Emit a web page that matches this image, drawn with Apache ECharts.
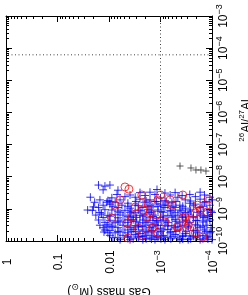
<!DOCTYPE html>
<html><head><meta charset="utf-8">
<script src="https://cdn.jsdelivr.net/npm/echarts@6/dist/echarts.min.js"></script>
<style>html,body{margin:0;padding:0;background:#fff}#c{width:248px;height:295px}</style>
</head><body><div id="c"></div>
<script>
// ---- data ----
const gasMassTicks = [1, 0.1, 0.01, 1e-3, 1e-4];
const gasMassTickLabels = ['1', '0.1', '0.01', '10^\u22123', '10^\u22124'];
const ratioTicks = [1e-3, 1e-4, 1e-5, 1e-6, 1e-7, 1e-8, 1e-9, 1e-10];
const ratioTickLabels = ['10^\u22123','10^\u22124','10^\u22125','10^\u22126','10^\u22127','10^\u22128','10^\u22129','10^\u221210'];

// [gas mass (Msun), 26Al/27Al]
const bluePoints = [
[1.6e-2,5.5e-9],[1.2e-2,5.1e-9],[9.6e-3,5.5e-9],
[1.3e-2,3.9e-9],[6.7e-3,3.8e-9],[1.17e-3,4.0e-9],
[2.5e-3,3.2e-9],[1.6e-3,3.3e-9],[8.2e-4,3.1e-9],[5.2e-4,3.2e-9],[1.7e-4,3.3e-9],
[3.9e-3,2.7e-9],[2.0e-3,2.6e-9],[1.28e-3,2.8e-9],[6.5e-4,2.7e-9],[3.8e-4,2.6e-9],[2.7e-4,2.8e-9],[1.4e-4,2.7e-9],
[2.3e-2,2.3e-9],[8.8e-3,2.2e-9],[4.9e-3,2.4e-9],[3.1e-3,2.3e-9],[1.0e-3,2.2e-9],[4.6e-4,2.3e-9],[2.1e-4,2.4e-9],[1.1e-4,2.3e-9],
[1.5e-2,1.9e-9],[1.05e-2,1.8e-9],[6.1e-3,1.9e-9],[2.5e-3,2.0e-9],[1.6e-3,1.9e-9],[8.2e-4,1.8e-9],[3.3e-4,1.9e-9],[1.7e-4,2.0e-9],[1.0e-4,1.9e-9],
[1.9e-2,1.6e-9],[7.6e-3,1.6e-9],[4.3e-3,1.5e-9],[2.0e-3,1.6e-9],[1.28e-3,1.7e-9],[6.0e-4,1.6e-9],[2.7e-4,1.5e-9],[1.4e-4,1.6e-9],
[1.3e-2,1.3e-9],[9.6e-3,1.4e-9],[5.6e-3,1.3e-9],[3.1e-3,1.3e-9],[1.6e-3,1.3e-9],[1.0e-3,1.4e-9],[7.2e-4,1.3e-9],[4.2e-4,1.3e-9],[2.1e-4,1.4e-9],[1.1e-4,1.3e-9],
[1.6e-2,1.1e-9],[6.7e-3,1.1e-9],[3.9e-3,1.05e-9],[2.2e-3,1.1e-9],[1.4e-3,1.15e-9],[8.2e-4,1.1e-9],[5.2e-4,1.1e-9],[3.3e-4,1.05e-9],[1.7e-4,1.1e-9],
[2.6e-2,9.2e-10],[2.1e-2,9.0e-10],[1.2e-2,9.4e-10],[8.8e-3,9.2e-10],[4.9e-3,9.0e-10],[2.7e-3,9.2e-10],[1.75e-3,9.4e-10],[1.12e-3,9.2e-10],[6.5e-4,9.0e-10],[4.2e-4,9.2e-10],[2.7e-4,9.3e-10],[1.25e-4,9.2e-10],
[1.5e-2,7.7e-10],[6.1e-3,7.6e-10],[3.9e-3,7.8e-10],[3.1e-3,7.6e-10],[1.6e-3,7.7e-10],[8.9e-4,7.8e-10],[5.2e-4,7.6e-10],[3.3e-4,7.7e-10],[1.95e-4,7.8e-10],[1.0e-4,7.7e-10],
[1.8e-2,6.4e-10],[1.05e-2,6.3e-10],[7.6e-3,6.5e-10],[5.35e-3,6.4e-10],[2.5e-3,6.3e-10],[2.0e-3,6.5e-10],[1.28e-3,6.4e-10],[7.2e-4,6.3e-10],[4.6e-4,6.4e-10],[2.9e-4,6.5e-10],[1.7e-4,6.4e-10],[1.2e-4,6.3e-10],
[1.3e-2,5.4e-10],[6.7e-3,5.3e-10],[3.9e-3,5.5e-10],[2.9e-3,5.4e-10],[1.6e-3,5.3e-10],[1.0e-3,5.4e-10],[6.0e-4,5.5e-10],[3.7e-4,5.4e-10],[2.3e-4,5.3e-10],[1.43e-4,5.4e-10],
[1.6e-2,4.5e-10],[9.6e-3,4.4e-10],[4.9e-3,4.5e-10],[3.4e-3,4.6e-10],[2.2e-3,4.5e-10],[1.4e-3,4.4e-10],[8.9e-4,4.5e-10],[5.2e-4,4.6e-10],[3.3e-4,4.5e-10],[1.9e-4,4.4e-10],[1.1e-4,4.5e-10],
[1.2e-2,3.8e-10],[7.6e-3,3.7e-10],[6.1e-3,3.9e-10],[4.3e-3,3.8e-10],[2.5e-3,3.7e-10],[1.75e-3,3.8e-10],[1.12e-3,3.9e-10],[7.2e-4,3.8e-10],[4.2e-4,3.7e-10],[2.7e-4,3.8e-10],[1.5e-4,3.9e-10],
[1.5e-2,3.1e-10],[1.05e-2,3.2e-10],[5.35e-3,3.1e-10],[3.1e-3,3.0e-10],[2.0e-3,3.1e-10],[1.28e-3,3.2e-10],[8.2e-4,3.1e-10],[6.0e-4,3.0e-10],[3.7e-4,3.1e-10],[2.1e-4,3.2e-10],[1.25e-4,3.1e-10],
[1.3e-2,2.6e-10],[8.8e-3,2.7e-10],[6.7e-3,2.6e-10],[3.9e-3,2.6e-10],[2.7e-3,2.7e-10],[1.6e-3,2.6e-10],[1.0e-3,2.5e-10],[5.2e-4,2.6e-10],[2.9e-4,2.7e-10],[1.7e-4,2.6e-10],[1.04e-4,2.6e-10],
[1.2e-2,2.2e-10],[9.6e-3,2.1e-10],[4.9e-3,2.2e-10],[3.4e-3,2.3e-10],[2.2e-3,2.2e-10],[1.4e-3,2.1e-10],[8.9e-4,2.2e-10],[7.2e-4,2.3e-10],[4.2e-4,2.2e-10],[2.3e-4,2.1e-10],[1.4e-4,2.2e-10],
[1.05e-2,1.8e-10],[7.6e-3,1.8e-10],[6.1e-3,1.9e-10],[4.3e-3,1.8e-10],[2.5e-3,1.7e-10],[1.75e-3,1.8e-10],[1.12e-3,1.9e-10],[6.5e-4,1.8e-10],[3.3e-4,1.7e-10],[1.9e-4,1.8e-10],[1.1e-4,1.8e-10],
[9.6e-3,1.5e-10],[5.35e-3,1.5e-10],[3.1e-3,1.6e-10],[2.0e-3,1.5e-10],[1.4e-3,1.45e-10],[8.9e-4,1.5e-10],[5.2e-4,1.6e-10],[3.7e-4,1.5e-10],[2.7e-4,1.45e-10],[1.5e-4,1.5e-10],
[8.4e-3,1.3e-10],[6.7e-3,1.25e-10],[4.3e-3,1.3e-10],[2.7e-3,1.3e-10],[1.6e-3,1.25e-10],[1.12e-3,1.3e-10],[7.2e-4,1.3e-10],[4.6e-4,1.25e-10],[2.1e-4,1.3e-10],[1.25e-4,1.3e-10],
[6.1e-3,1.1e-10],[3.9e-3,1.1e-10],[2.2e-3,1.1e-10],[1.28e-3,1.1e-10],[8.2e-4,1.1e-10],[4.2e-4,1.1e-10],[2.9e-4,1.1e-10],[1.7e-4,1.1e-10],[1.0e-4,1.1e-10],
[9.6e-3,1.7e-9],[3.0e-3,1.7e-9],[1.9e-3,1.75e-9],[1.2e-3,1.7e-9],[7.8e-4,1.65e-9],[5.0e-4,1.7e-9],[2.6e-4,1.75e-9],[1.31e-4,1.7e-9],
[8.4e-3,1.2e-9],[4.3e-3,1.2e-9],[2.7e-3,1.25e-9],[1.75e-3,1.2e-9],[1.12e-3,1.2e-9],[8.9e-4,1.25e-9],[5.7e-4,1.2e-9],[3.7e-4,1.2e-9],[2.3e-4,1.25e-9],[1.5e-4,1.2e-9],
[6.7e-3,8.5e-10],[3.7e-3,8.5e-10],[2.4e-3,8.7e-10],[1.5e-3,8.5e-10],[9.8e-4,8.3e-10],[6.3e-4,8.5e-10],[4.0e-4,8.6e-10],[2.6e-4,8.5e-10],[1.64e-4,8.4e-10],[1.04e-4,8.5e-10],
[9.6e-3,5.9e-10],[4.3e-3,5.9e-10],[3.4e-3,6.0e-10],[2.2e-3,5.9e-10],[1.4e-3,5.8e-10],[8.9e-4,5.9e-10],[5.7e-4,6.0e-10],[3.7e-4,5.9e-10],[2.3e-4,5.8e-10],[1.5e-4,5.9e-10],[1.2e-4,6.0e-10],
[6.7e-3,4.2e-10],[3.7e-3,4.2e-10],[3.0e-3,4.1e-10],[1.9e-3,4.2e-10],[1.2e-3,4.3e-10],[7.8e-4,4.2e-10],[5.0e-4,4.1e-10],[3.2e-4,4.2e-10],[2.05e-4,4.3e-10],[1.31e-4,4.2e-10],
[8.4e-3,2.9e-10],[4.3e-3,2.9e-10],[2.7e-3,2.9e-10],[2.2e-3,2.85e-10],[1.4e-3,2.9e-10],[1.12e-3,3.0e-10],[7.2e-4,2.9e-10],[4.6e-4,2.85e-10],[2.9e-4,2.9e-10],[1.9e-4,2.95e-10],[1.5e-4,2.9e-10],
[6.7e-3,2.0e-10],[3.7e-3,2.0e-10],[3.0e-3,1.95e-10],[1.9e-3,2.0e-10],[1.5e-3,2.05e-10],[9.8e-4,2.0e-10],[6.3e-4,1.95e-10],[5.0e-4,2.0e-10],[3.2e-4,2.0e-10],[2.05e-4,2.05e-10],[1.31e-4,2.0e-10],[1.04e-4,1.95e-10],
[4.3e-3,1.4e-10],[2.7e-3,1.4e-10],[2.2e-3,1.38e-10],[1.2e-3,1.4e-10],[8.9e-4,1.42e-10],[5.7e-4,1.4e-10],[3.7e-4,1.38e-10],[2.3e-4,1.4e-10],[1.9e-4,1.42e-10],[1.2e-4,1.4e-10],
[3.4e-3,1.17e-10],[1.9e-3,1.17e-10],[1.5e-3,1.15e-10],[9.8e-4,1.17e-10],[6.3e-4,1.17e-10],[3.7e-4,1.15e-10],[2.6e-4,1.17e-10],[1.5e-4,1.17e-10],[1.2e-4,1.15e-10],
[1.1e-2,2.9e-10],[1.25e-2,1.9e-10],[1.4e-2,6.9e-10],[2.0e-2,1.15e-9],[1.1e-2,1.6e-9],[7.0e-3,2.8e-9]
];

const redPoints = [
[4.9e-3,4.8e-9],[4.1e-3,4.1e-9],[7.6e-3,1.3e-9],[2.3e-3,2.7e-9],[3.1e-3,1.14e-9],[2.2e-3,9.2e-10],
[1.12e-3,1.9e-9],[1.46e-3,2.5e-10],[2.3e-3,1.5e-10],[6.5e-4,1.9e-9],[3.7e-4,5.2e-10],[2.7e-4,4.5e-10],
[3.06e-4,2.5e-10],[2.1e-4,1.8e-10],[4.6e-4,2.7e-10],[1.7e-4,9.2e-10],[1.25e-4,8.0e-10],[1.17e-3,6.4e-10],
[3.57e-3,5.6e-10],[1.6e-3,7.4e-10],[8.8e-3,5.2e-10],[4.47e-3,3.6e-10],[1.4e-3,2.7e-10],[1.0e-3,2.7e-9],
[3.7e-4,2.7e-9],[4.79e-4,2.7e-10],[3.3e-4,5.6e-10],[2.9e-4,3.1e-10],[1.75e-3,1.5e-9],[1.83e-3,5.6e-10],
[1.12e-3,1.8e-10],[6.1e-3,1.9e-9],[8.2e-4,3.9e-10],[6.0e-4,1.3e-9],[1.9e-4,1.3e-9],[2.7e-3,2.5e-10],
[4.3e-3,1.24e-10],[1.5e-4,1.33e-10],[1.2e-4,2.0e-9],[2.1e-4,7.4e-10]
];

const blackPoints = [
[4.18e-4,2.15e-8],[2.56e-4,1.87e-8],[2.05e-4,1.62e-8],[1.64e-4,1.62e-8],[1.31e-4,1.5e-8]
];

const refGasMass = 1e-3;
const refRatio = 6.2e-5;
const massRange = [1e-4, 1];
const ratioRange = [1e-10, 1e-3];

// ---- chart ----
const FONT = '"Liberation Sans", Arial, Helvetica, sans-serif';
function minorTicks(lo, hi) {
  const out = [];
  for (let e = lo; e < hi; e++) for (let k = 2; k <= 9; k++) out.push(k * Math.pow(10, e));
  return out;
}
const xMinor = minorTicks(-4, 0);
const yMinor = minorTicks(-10, -3);

const tickRich = {
  b: {fontSize: 12, fontFamily: FONT, color: '#000', lineHeight: 15, verticalAlign: 'bottom'},
  s: {fontSize: 9, fontFamily: FONT, color: '#000', lineHeight: 10, verticalAlign: 'top'}
};
function fmt(ticks, labels) {
  return function (v) {
    const i = ticks.findIndex(t => Math.abs(Math.log10(t) - Math.log10(v)) < 1e-6);
    if (i < 0) return '';
    const p = labels[i].split('^');
    return p.length > 1 ? '{b|' + p[0] + '}{s|' + p[1] + '}' : '{b|' + p[0] + '}';
  };
}
const black = {color: '#000', width: 1};

function xAx(pos, major, withLabel) {
  return {
    type: 'log', logBase: 10, min: massRange[0], max: massRange[1], inverse: true, position: pos, gridIndex: 0,
    axisLine: {show: major, onZero: false, lineStyle: black},
    axisTick: {show: true, inside: true, length: major ? 6 : 3, customValues: major ? gasMassTicks : xMinor, lineStyle: black},
    axisLabel: withLabel ? {show: true, customValues: gasMassTicks, rotate: 90, align: 'center', margin: 21,
      formatter: fmt(gasMassTicks, gasMassTickLabels), rich: tickRich} : {show: false},
    splitLine: {show: false}, minorTick: {show: false}
  };
}
function yAx(pos, major, withLabel) {
  return {
    type: 'log', logBase: 10, min: ratioRange[0], max: ratioRange[1], position: pos, gridIndex: 0,
    axisLine: {show: major, onZero: false, lineStyle: black},
    axisTick: {show: true, inside: true, length: major ? 6 : 3, customValues: major ? ratioTicks : yMinor, lineStyle: black},
    axisLabel: withLabel ? {show: true, customValues: ratioTicks, rotate: 90, margin: 3,
      formatter: fmt(ratioTicks, ratioTickLabels), rich: tickRich} : {show: false},
    splitLine: {show: false}, minorTick: {show: false}
  };
}

const xMain = xAx('bottom', true, true);
xMain.name = '{n|Gas mass (M}{sub|\u2299}{n|)}';
xMain.nameLocation = 'middle';
xMain.nameGap = 34;
xMain.nameRotate = 180;
xMain.nameTextStyle = {rich: {
  n: {fontSize: 12, fontFamily: FONT, color: '#000', lineHeight: 16, verticalAlign: 'top'},
  sub: {fontSize: 9, fontFamily: FONT, color: '#000', lineHeight: 10, verticalAlign: 'bottom'}
}};

const yMain = yAx('right', true, true);
yMain.name = '{s|26}{n|Al/}{s|27}{n|Al}';
yMain.nameLocation = 'middle';
yMain.nameGap = 22;
yMain.nameRotate = 90;
yMain.nameTextStyle = {padding: [0, 0, 0, 16], rich: {
  n: {fontSize: 12, fontFamily: FONT, color: '#000', lineHeight: 15, verticalAlign: 'bottom'},
  s: {fontSize: 8, fontFamily: FONT, color: '#000', lineHeight: 9, verticalAlign: 'top'}
}};

const plusPath = 'path://M0,5H10M5,0V10';
const dotted = {color: '#444', type: [1, 2.5], width: 1};

const chart = echarts.init(document.getElementById('c'), null, {renderer: 'canvas'});
chart.setOption({
  animation: false,
  backgroundColor: '#fff',
  grid: {left: 6, right: 36, top: 16, bottom: 54, containLabel: false, outerBoundsMode: 'none'},
  xAxis: [xMain, xAx('bottom', false, false), xAx('top', true, false), xAx('top', false, false)],
  yAxis: [yMain, yAx('right', false, false), yAx('left', true, false), yAx('left', false, false)],
  series: [
    {type: 'scatter', xAxisIndex: 0, yAxisIndex: 0, data: bluePoints, symbol: plusPath, symbolSize: 8,
      itemStyle: {color: 'rgba(0,0,0,0)', borderColor: '#0000ff', borderWidth: 1}, z: 2, silent: true},
    {type: 'scatter', xAxisIndex: 0, yAxisIndex: 0, data: redPoints, symbol: 'circle', symbolSize: 8,
      itemStyle: {color: 'rgba(0,0,0,0)', borderColor: '#ff0000', borderWidth: 1}, z: 3, silent: true},
    {type: 'scatter', xAxisIndex: 0, yAxisIndex: 0, data: blackPoints, symbol: plusPath, symbolSize: 7,
      itemStyle: {color: 'rgba(0,0,0,0)', borderColor: '#333', borderWidth: 1}, z: 4, silent: true},
    {type: 'line', xAxisIndex: 0, yAxisIndex: 0, data: [[refGasMass, ratioRange[0]], [refGasMass, ratioRange[1]]],
      symbol: 'none', lineStyle: dotted, z: 5, silent: true},
    {type: 'line', xAxisIndex: 0, yAxisIndex: 0, data: [[massRange[0], refRatio], [massRange[1], refRatio]],
      symbol: 'none', lineStyle: dotted, z: 5, silent: true}
  ]
});
</script></body></html>
